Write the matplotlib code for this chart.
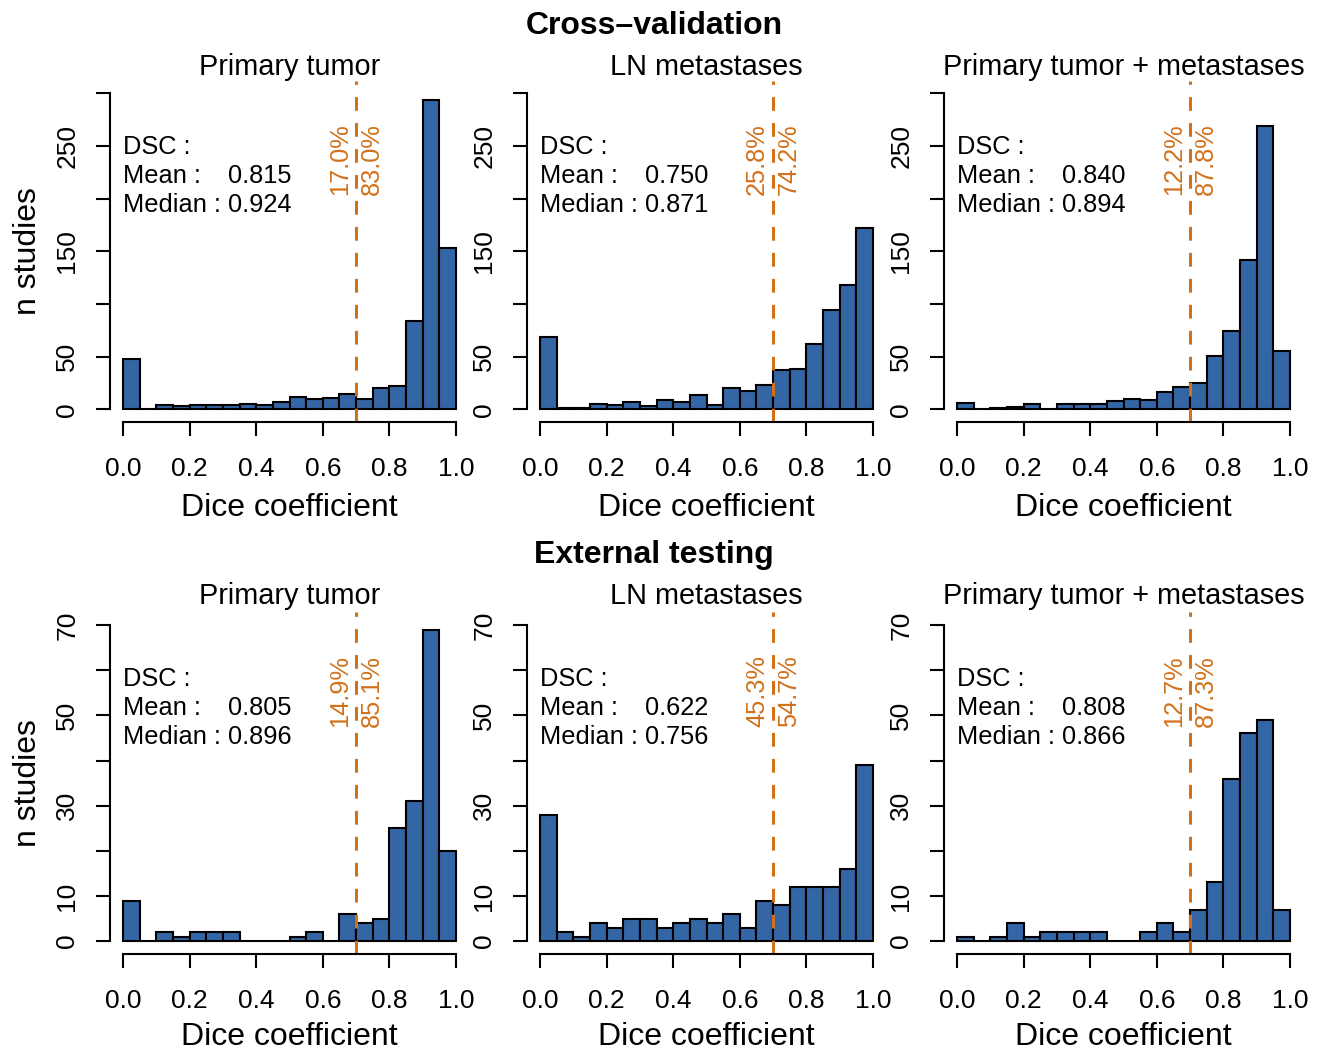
#!/usr/bin/env python3

import matplotlib
matplotlib.use("Agg")
import matplotlib.pyplot as plt
import numpy as np

plt.rcParams['font.family'] = ['Liberation Sans', 'DejaVu Sans']

BAR_COLOR = "#3465A4"
LINE_COLOR = "#D2711A"
CUTOFF = 0.7

# bin edges: 20 bins of width 0.05 on [0, 1]
bin_edges = np.linspace(0, 1, 21)

panel_titles = ["Primary tumor", "LN metastases", "Primary tumor + metastases"]
row_titles = ["Cross\u2013validation", "External testing"]

# Counts per bin
cv_primary = [48, 0, 4, 3, 4, 4, 4, 5, 4, 7, 12, 10, 11, 15, 10, 20, 22, 84, 294, 153]
cv_ln = [69, 1, 1, 5, 4, 7, 3, 9, 7, 14, 4, 20, 17, 23, 37, 38, 62, 94, 118, 172]
cv_both = [6, 0, 1, 2, 5, 0, 5, 5, 5, 8, 10, 9, 16, 21, 25, 51, 74, 142, 269, 55]
ext_primary = [9, 0, 2, 1, 2, 2, 2, 0, 0, 0, 1, 2, 0, 6, 4, 5, 25, 31, 69, 20]
ext_ln = [28, 2, 1, 4, 3, 5, 5, 3, 4, 5, 4, 6, 3, 9, 8, 12, 12, 12, 16, 39]
ext_both = [1, 0, 1, 4, 1, 2, 2, 2, 2, 0, 0, 2, 4, 2, 7, 13, 36, 46, 49, 7]

cv_mean = ["0.815", "0.750", "0.840"]
cv_median = ["0.924", "0.871", "0.894"]
ext_mean = ["0.805", "0.622", "0.808"]
ext_median = ["0.896", "0.756", "0.866"]

cv_below = ["17.0%", "25.8%", "12.2%"]
cv_above = ["83.0%", "74.2%", "87.8%"]
ext_below = ["14.9%", "45.3%", "12.7%"]
ext_above = ["85.1%", "54.7%", "87.3%"]

rows = [
    dict(counts=[cv_primary, cv_ln, cv_both], mean=cv_mean, median=cv_median,
         below=cv_below, above=cv_above, ymax=300, yticks=np.arange(0, 301, 50),
         ylabels=["0", "50", "", "150", "", "250", ""]),
    dict(counts=[ext_primary, ext_ln, ext_both], mean=ext_mean, median=ext_median,
         below=ext_below, above=ext_above, ymax=70, yticks=np.arange(0, 71, 10),
         ylabels=["0", "10", "", "30", "", "50", "", "70"]),
]

W, H = 1319, 1049
fig = plt.figure(figsize=(W / 100, H / 100), dpi=100)

TICK_FS = 19
TXT_FS = 18.3
LAB_FS = 23
PANEL_FS = 20.8

ax_lefts = [109.7, 526.7, 943.7]
ax_w = 359.6
row_tops = [80.6, 612.4]
ax_h = 341.4
row_title_y = [26, 555]
panel_title_off = [13.6, 16.0]
xlabel_off = [86, 83.5]

for r, row in enumerate(rows):
    fig.text(654 / W, 1 - row_title_y[r] / H, row_titles[r], ha="center", va="center",
             fontsize=23, fontweight="bold")
    ymax = row["ymax"]
    for c in range(3):
        ax = fig.add_axes([ax_lefts[c] / W, 1 - (row_tops[r] + ax_h) / H, ax_w / W, ax_h / H])
        ax.bar(bin_edges[:-1], row["counts"][c], width=0.05, align="edge",
               color=BAR_COLOR, edgecolor="black", linewidth=1.5)
        ax.set_xlim(-0.04, 1.04)
        ax.set_ylim(-0.04 * ymax, 1.04 * ymax)
        for s in ["top", "right"]:
            ax.spines[s].set_visible(False)
        ax.spines["left"].set_bounds(0, ymax)
        ax.spines["bottom"].set_bounds(0, 1)
        ax.spines["left"].set_linewidth(1.5)
        ax.spines["bottom"].set_linewidth(1.5)
        ax.set_xticks(np.arange(0, 1.01, 0.2))
        ax.set_xticklabels(["0.0", "0.2", "0.4", "0.6", "0.8", "1.0"])
        ax.set_yticks(row["yticks"])
        ax.set_yticklabels(row["ylabels"], rotation=90, va="center")
        ax.tick_params(axis="both", length=10, width=1.5, labelsize=TICK_FS)
        ax.tick_params(axis="x", pad=15.5)
        ax.tick_params(axis="y", pad=12)

        ax.axvline(CUTOFF, color=LINE_COLOR, linestyle=(0, (4.5, 4)), linewidth=2.2)
        ax.text(CUTOFF - 0.048, 0.905 * ymax, row["below"][c], rotation=90, ha="center",
                va="top", color=LINE_COLOR, fontsize=TXT_FS)
        ax.text(CUTOFF + 0.048, 0.905 * ymax, row["above"][c], rotation=90, ha="center",
                va="top", color=LINE_COLOR, fontsize=TXT_FS)

        tr = ax.get_xaxis_transform()
        ax.text(0, 0.805, "DSC :", transform=tr, ha="left", va="center", fontsize=TXT_FS)
        ax.text(0, 0.721, "Mean :", transform=tr, ha="left", va="center", fontsize=TXT_FS)
        ax.text(0, 0.635, "Median :", transform=tr, ha="left", va="center", fontsize=TXT_FS)
        ax.text(0.315, 0.721, row["mean"][c], transform=tr, ha="left", va="center",
                fontsize=TXT_FS)
        ax.text(0.315, 0.635, row["median"][c], transform=tr, ha="left", va="center",
                fontsize=TXT_FS)

        ax.text(0.5, 1 + panel_title_off[r] / ax_h, panel_titles[c], transform=ax.transAxes,
                ha="center", va="center", fontsize=PANEL_FS)
        ax.text(0.5, -xlabel_off[r] / ax_h, "Dice coefficient", transform=ax.transAxes,
                ha="center", va="center", fontsize=LAB_FS)
        if c == 0:
            ax.text(-81.7 / ax_w, 0.5, "n studies", transform=ax.transAxes, ha="center",
                    va="center", rotation=90, fontsize=LAB_FS)

fig.savefig("out.png", dpi=100)
